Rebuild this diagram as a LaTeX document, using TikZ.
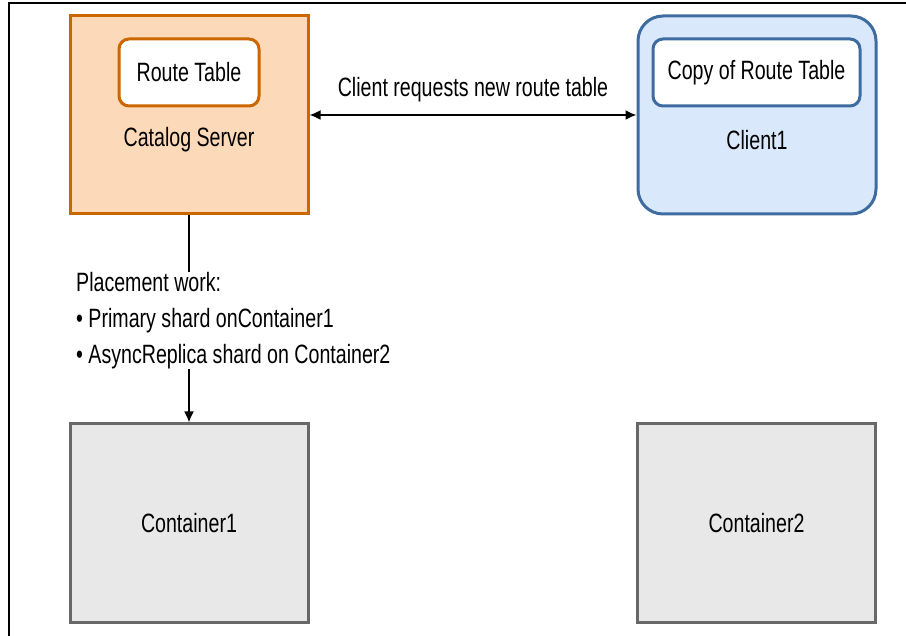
\documentclass[tikz,border=0pt]{standalone}
\usepackage{fontspec}
\setmainfont{Liberation Sans}[FakeStretch=0.74]
\usetikzlibrary{positioning,arrows.meta}

\definecolor{srvfill}{RGB}{252,218,185}
\definecolor{srvline}{RGB}{204,102,0}
\definecolor{clifill}{RGB}{218,232,252}
\definecolor{cliline}{RGB}{62,108,160}
\definecolor{boxfill}{RGB}{232,232,232}
\definecolor{boxline}{RGB}{104,104,104}

\tikzset{
 big/.style={minimum width=238pt,minimum height=198pt,line width=3pt,inner sep=0pt},
 tbl/.style={rounded corners=10pt,fill=white,minimum height=67pt,line width=3pt,inner sep=0pt},
 lbl/.style={inner sep=0pt}
}

\begin{document}
\begin{tikzpicture}[x=1pt,y=-1pt,font=\fontsize{26.5}{31}\selectfont]
 \useasboundingbox (0,0) rectangle (906,636);
 \draw[line width=1.5pt] (9,636)--(9,3)--(906,3); %枠
 
 %上段
 \node[big,draw=srvline,fill=srvfill] (cat) at (189,115) {};
 \node[tbl,draw=srvline,minimum width=140pt] (rt) at (189,72.5) {Route Table};
 \node[lbl] (catname) at (189,140) {Catalog Server};
 \node[big,draw=cliline,fill=clifill,rounded corners=25pt] (cli) at (757,115) {};
 \node[tbl,draw=cliline,minimum width=207pt] (crt) at (756.5,72.5) {Copy of Route Table};
 \node[lbl] (cliname) at (757,140) {Client1};
 \draw[line width=1.8pt,<->,>={Latex[length=11pt,width=10pt]}] (cat.east)--(cli.west)
  node[midway,above=12pt,lbl] (req) {Client requests new route table};
 
 %下段
 \node[big,draw=boxline,fill=boxfill] (c1) at (189,523) {Container1};
 \node[big,draw=boxline,fill=boxfill] (c2) at (756.5,523) {Container2};
 
 %配置
 \node[lbl,anchor=north west,align=left,font=\fontsize{26.5}{36}\selectfont] (place) at (76,272)
  {Placement work:\\ \textbullet\ Primary shard onContainer1\\ \textbullet\ AsyncReplica shard on Container2};
 \draw[line width=1.8pt] (cat.south)--(cat.south |- place.north);
 \draw[line width=1.8pt,->,>={Latex[length=11pt,width=10pt]}] (c1.north |- place.south)--(c1.north);
\end{tikzpicture}
\end{document}
